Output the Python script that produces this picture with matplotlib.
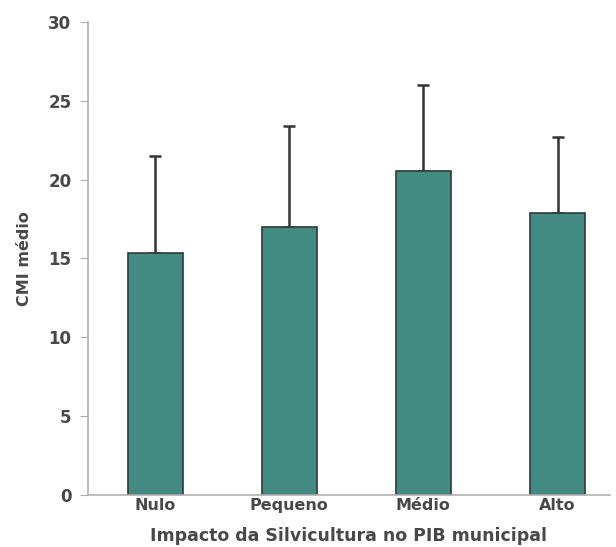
import matplotlib
matplotlib.use("Agg")
import matplotlib.pyplot as plt

categories = ["Nulo", "Pequeno", "Médio", "Alto"]
means = [15.35, 17.0, 20.55, 17.9]
upper = [21.5, 23.4, 26.0, 22.7]

err = [u - m for u, m in zip(upper, means)]
x = list(range(len(categories)))

txt = "#484848"

fig = plt.figure(figsize=(6.16, 5.47), dpi=100)
ax = fig.add_axes([0.143, 0.095, 0.847, 0.865])

ax.bar(x, means, width=0.41, color="#428a82", edgecolor="#2b3d3a", linewidth=1.2, zorder=2)
ax.errorbar(x, means, yerr=[[0] * len(err), err], fmt="none", ecolor="#333333",
            elinewidth=1.8, capsize=4, capthick=1.8, zorder=1)

ax.set_xlim(-0.5, 3.39)
ax.set_ylim(0, 30)
ax.set_yticks(range(0, 31, 5))
ax.set_xticks(x)
ax.set_xticklabels(categories, fontweight="bold")
for lbl in ax.get_yticklabels():
    lbl.set_fontweight("bold")

for s in ["top", "right"]:
    ax.spines[s].set_visible(False)
for s in ["left", "bottom"]:
    ax.spines[s].set_color("#b0b0b0")
    ax.spines[s].set_linewidth(1.2)

ax.tick_params(axis="y", direction="out", length=6, color="#b0b0b0", labelsize=12, labelcolor=txt, pad=6)
ax.tick_params(axis="x", length=0, labelsize=11.5, labelcolor=txt, pad=2)

ax.set_ylabel("CMI médio", fontsize=11.5, color=txt, fontweight="bold", labelpad=12)
ax.set_xlabel("Impacto da Silvicultura no PIB municipal", fontsize=12.5, color=txt,
              fontweight="bold", labelpad=10)

fig.savefig("out.png", dpi=100)
